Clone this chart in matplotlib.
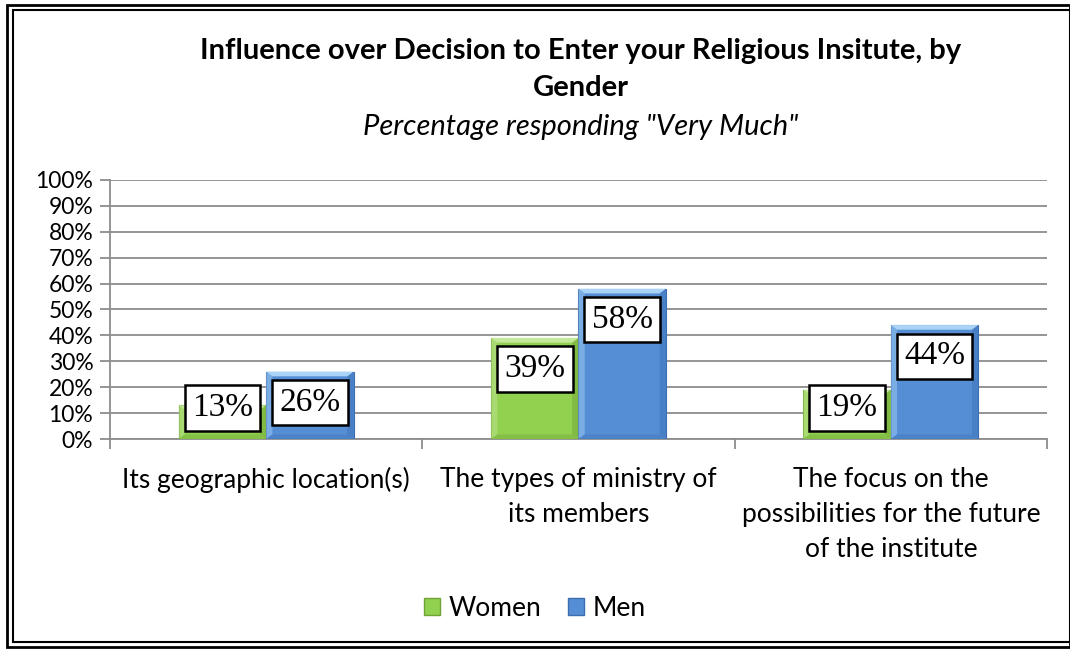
import matplotlib.pyplot as plt
from matplotlib.patches import Rectangle, Polygon
import numpy as np

categories = ["Its geographic location(s)",
              "The types of ministry of\nits members",
              "The focus on the\npossibilities for the future\nof the institute"]
women = [13, 39, 19]
men = [26, 58, 44]
yticks = list(range(0, 101, 10))

green = "#92D050"
green_light = "#C3E89A"
green_dark = "#6FA336"
blue = "#558ED5"
blue_light = "#A9D4F7"
blue_dark = "#3C6DB0"

plt.rcParams['font.family'] = ['Lato', 'DejaVu Sans']

fig = plt.figure(figsize=(10.7, 6.5), dpi=100)
ax = fig.add_axes([0.1028, 0.3246, 0.8757, 0.3985])

x = np.arange(len(categories))
w = 0.28


def bevel_bar(ax, xc, h, face, light, dark):
    left, right = xc - w / 2, xc + w / 2
    ax.bar(xc, h, w, color=face, edgecolor=dark, linewidth=0.8, zorder=3)
    bx = 0.02
    by = 1.8
    bt = min(by, h / 2)
    # top bevel
    ax.add_patch(Polygon([(left, h), (right, h), (right - bx, h - bt), (left + bx, h - bt)],
                         closed=True, facecolor=light, edgecolor='none', zorder=4))
    # left bevel
    ax.add_patch(Polygon([(left, 0), (left + bx, bt), (left + bx, h - bt), (left, h)],
                         closed=True, facecolor=light, alpha=0.45, edgecolor='none', zorder=4))
    # right bevel
    ax.add_patch(Polygon([(right, 0), (right - bx, bt), (right - bx, h - bt), (right, h)],
                         closed=True, facecolor=dark, alpha=0.45, edgecolor='none', zorder=4))
    # bottom bevel
    ax.add_patch(Polygon([(left, 0), (right, 0), (right - bx, bt), (left + bx, bt)],
                         closed=True, facecolor=dark, alpha=0.35, edgecolor='none', zorder=4))


for i in range(len(categories)):
    bevel_bar(ax, x[i] - w / 2, women[i], green, green_light, green_dark)
    bevel_bar(ax, x[i] + w / 2, men[i], blue, blue_light, blue_dark)

label_box = dict(boxstyle="square,pad=0.22", facecolor="white", edgecolor="black", linewidth=1.8)
for i in range(len(categories)):
    for xc, v in ((x[i] - w / 2, women[i]), (x[i] + w / 2, men[i])):
        ty = max(v - 12, 12)
        ax.text(xc, ty, f"{v}%", ha="center", va="center", fontsize=24,
                family="Liberation Serif", bbox=label_box, zorder=6)

ax.set_xlim(-0.5, len(categories) - 0.5)
ax.set_ylim(0, 100)
ax.set_yticks(yticks)
ax.set_yticklabels([f"{t}%" for t in yticks], fontsize=16.5)
ax.yaxis.grid(True, color="#8C8C8C", linewidth=1.3, zorder=0)
ax.set_axisbelow(True)

ax.set_xticks(np.arange(-0.5, len(categories), 1.0))
ax.set_xticklabels([])
ax.set_xticks(x, minor=True)
ax.set_xticklabels(categories, minor=True, fontsize=19, linespacing=1.5)
ax.tick_params(axis='x', which='minor', length=0, pad=20)
ax.tick_params(axis='x', which='major', length=7, color="#8C8C8C", width=1.3)
ax.tick_params(axis='y', length=7, color="#8C8C8C", width=1.3, pad=5)
for s in ("top", "right"):
    ax.spines[s].set_visible(False)
for s in ("left", "bottom"):
    ax.spines[s].set_color("#8C8C8C")
    ax.spines[s].set_linewidth(1.3)

fig.text(0.543, 0.922, "Influence over Decision to Enter your Religious Insitute, by",
         ha="center", va="center", fontsize=21, fontweight="bold")
fig.text(0.543, 0.864, "Gender", ha="center", va="center", fontsize=21, fontweight="bold")
fig.text(0.543, 0.804, 'Percentage responding "Very Much"', ha="center", va="center",
         fontsize=21, style="italic")

handles = [Rectangle((0, 0), 1, 1, facecolor=green, edgecolor=green_dark),
           Rectangle((0, 0), 1, 1, facecolor=blue, edgecolor=blue_dark)]
fig.legend(handles, ["Women", "Men"], loc="center", bbox_to_anchor=(0.5, 0.064),
           ncol=2, frameon=False, fontsize=19, handlelength=0.6, handleheight=0.6,
           handletextpad=0.35, columnspacing=1.0)

# double frame around the figure
fig.patches.append(Rectangle((0.007, 0.004), 0.993, 0.988, transform=fig.transFigure,
                             fill=False, edgecolor="black", linewidth=2))
fig.patches.append(Rectangle((0.012, 0.012), 0.988, 0.972, transform=fig.transFigure,
                             fill=False, edgecolor="black", linewidth=1.5))

fig.savefig("out.png", dpi=100)
